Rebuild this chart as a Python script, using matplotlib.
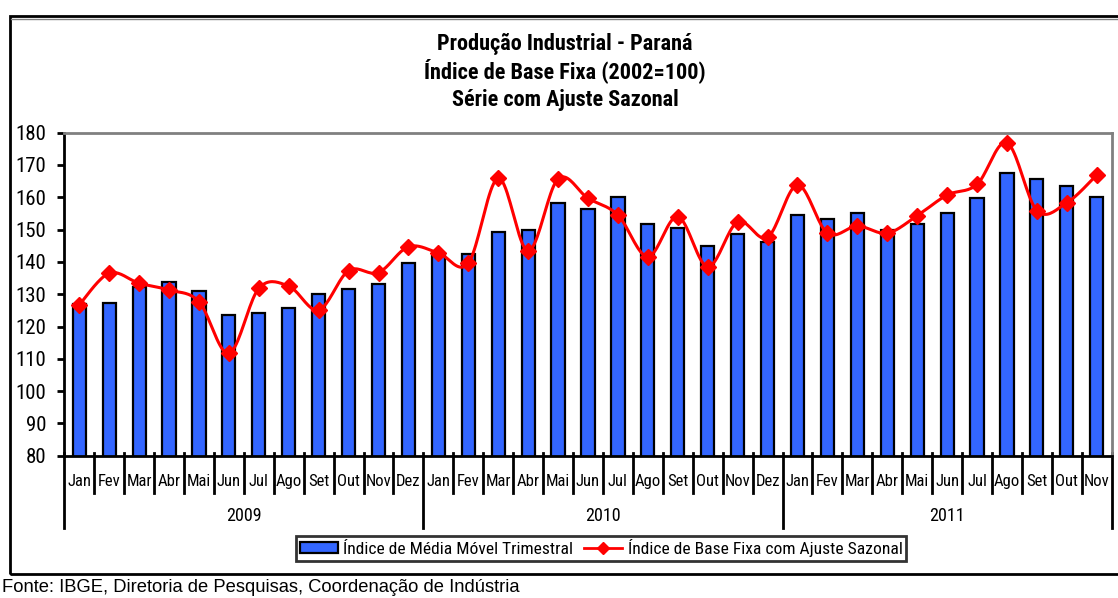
import numpy as np
import matplotlib
matplotlib.use('Agg')
import matplotlib.pyplot as plt
from matplotlib.patches import Patch, Rectangle
from matplotlib.lines import Line2D
from matplotlib import font_manager

# Data
months = ['Jan', 'Fev', 'Mar', 'Abr', 'Mai', 'Jun', 'Jul', 'Ago', 'Set', 'Out', 'Nov', 'Dez',
          'Jan', 'Fev', 'Mar', 'Abr', 'Mai', 'Jun', 'Jul', 'Ago', 'Set', 'Out', 'Nov', 'Dez',
          'Jan', 'Fev', 'Mar', 'Abr', 'Mai', 'Jun', 'Jul', 'Ago', 'Set', 'Out', 'Nov']
years = ['2009', '2010', '2011']
media_movel = [126.9, 127.4, 132.3, 133.7, 131.1, 123.6, 124.1, 125.6, 130.1, 131.6, 133.3, 139.6,
               141.8, 142.3, 149.2, 149.9, 158.3, 156.3, 160.0, 151.8, 150.4, 145.0, 148.7, 146.1,
               154.5, 153.3, 155.1, 150.0, 151.8, 155.0, 159.9, 167.4, 165.7, 163.6, 160.2]
ajuste_sazonal = [126.7, 136.5, 133.4, 131.3, 127.7, 111.7, 131.8, 132.5, 125.1, 137.3, 136.7, 144.7,
                  142.8, 139.6, 165.9, 143.4, 165.7, 159.7, 154.5, 141.6, 154.0, 138.5, 152.4, 147.6,
                  163.8, 148.9, 151.1, 148.9, 154.3, 160.7, 164.0, 176.9, 155.9, 158.3, 166.9]
titulo = ['Produção Industrial - Paraná', 'Índice de Base Fixa (2002=100)', 'Série com Ajuste Sazonal']
fonte = 'Fonte: IBGE, Diretoria de Pesquisas, Coordenação de Indústria'

# Fonts: a narrow Arial look-alike if one is installed
names = set(f.name for f in font_manager.fontManager.ttflist)
narrow = [n for n in ['Liberation Sans Narrow', 'Arial Narrow', 'Roboto Condensed'] if n in names]
narrow = narrow[:1] + ['Liberation Sans', 'DejaVu Sans']
is_narrow = narrow[0] != 'Liberation Sans'
plt.rcParams['font.family'] = ['Liberation Sans', 'DejaVu Sans']

W, H = 1118, 598


def fx(px):
    return px / W


def fy(py):
    return 1 - py / H


def smooth(y, steps=20):
    # Catmull-Rom style smoothing like Excel's smoothed line
    x = np.arange(len(y), dtype=float)
    y = np.asarray(y, dtype=float)
    xs, ys = [], []
    n = len(y)
    for i in range(n - 1):
        p0 = i - 1 if i > 0 else i
        p3 = i + 2 if i + 2 < n else i + 1
        m1x, m1y = (x[i + 1] - x[p0]) / 2, (y[i + 1] - y[p0]) / 2
        m2x, m2y = (x[p3] - x[i]) / 2, (y[p3] - y[i]) / 2
        t = np.linspace(0, 1, steps, endpoint=False)
        h00 = 2 * t**3 - 3 * t**2 + 1
        h10 = t**3 - 2 * t**2 + t
        h01 = -2 * t**3 + 3 * t**2
        h11 = t**3 - t**2
        xs.append(h00 * x[i] + h10 * m1x + h01 * x[i + 1] + h11 * m2x)
        ys.append(h00 * y[i] + h10 * m1y + h01 * y[i + 1] + h11 * m2y)
    xs.append([x[-1]])
    ys.append([y[-1]])
    return np.concatenate(xs), np.concatenate(ys)


fig = plt.figure(figsize=(W / 100, H / 100), dpi=100)
ax_l, ax_r, ax_t, ax_b = 64.3, 1111.7, 132.7, 455.7
ax = fig.add_axes([fx(ax_l), fy(ax_b), fx(ax_r - ax_l), (ax_b - ax_t) / H])

# outer chart frame
fig.add_artist(Rectangle((fx(10), fy(573.5)), 1.1, fy(16) - fy(573.5), transform=fig.transFigure,
                         facecolor='none', edgecolor='black', lw=2, zorder=0))
fig.add_artist(Line2D([fx(11), 1], [fy(18.5), fy(18.5)], transform=fig.transFigure, color='#808080', lw=1))

x = np.arange(len(months))
ax.bar(x, media_movel, width=0.44, color='#3366ff', edgecolor='black', linewidth=1.6, zorder=2)
sx, sy = smooth(ajuste_sazonal)
ax.plot(sx, sy, color='#ff0000', lw=2.2, zorder=3, clip_on=False)
ax.plot(x, ajuste_sazonal, ls='none', marker='D', ms=8.5, color='#ff0000', zorder=4, clip_on=False)

ax.set_xlim(-0.5, len(months) - 0.5)
ax.set_ylim(80, 180)
ax.set_yticks(np.arange(80, 181, 10))
ax.set_yticklabels([str(v) for v in range(80, 181, 10)], family=narrow, fontsize=15 if is_narrow else 13.5)
ax.tick_params(axis='y', direction='out', length=5, width=2, pad=8)
ax.set_xticks([])

for s in ['left', 'bottom']:
    ax.spines[s].set_color('black')
    ax.spines[s].set_linewidth(2)
for s in ['top', 'right']:
    ax.spines[s].set_color('#808080')
    ax.spines[s].set_linewidth(2)

# category axis: month boundaries, labels and year groups
axh = ax_b - ax_t
tr = ax.get_xaxis_transform()
year_bounds = [0, 12, 24, len(months)]
for b in range(len(months) + 1):
    low = 72 if b in year_bounds else 37
    ax.plot([b - 0.5, b - 0.5], [3 / axh, -low / axh], transform=tr, color='black', lw=2, clip_on=False)
for i, m in enumerate(months):
    ax.text(i, -26 / axh, m, transform=tr, ha='center', va='center', family=narrow,
            fontsize=12 if is_narrow else 10.3)
for k, yr in enumerate(years):
    c = (year_bounds[k] + year_bounds[k + 1] - 1) / 2
    ax.text(c, -60.5 / axh, yr, transform=tr, ha='center', va='center', family=narrow, fontsize=13)

# title, one line at a time so the spacing stays even
for line, ypx in zip(titulo, [50, 78, 106]):
    fig.text(fx(565), fy(ypx), line, ha='center', va='baseline', family=narrow,
             fontsize=16 if is_narrow else 14, fontweight='bold')

handles = [Patch(facecolor='#3366ff', edgecolor='black', linewidth=1.6),
           Line2D([], [], color='#ff0000', lw=2, marker='D', ms=6)]
labels = ['Índice de Média Móvel Trimestral', 'Índice de Base Fixa com Ajuste Sazonal']
leg = fig.legend(handles, labels, loc='center', bbox_to_anchor=(fx(601), fy(548)), ncol=2,
                 frameon=True, fancybox=False, prop={'family': narrow, 'size': 12.6 if is_narrow else 11.3},
                 handlelength=2.2, handleheight=0.6, handletextpad=0.3, columnspacing=0.6,
                 borderpad=0.2, borderaxespad=0)
leg.get_frame().set_edgecolor('black')
leg.get_frame().set_linewidth(2)

fig.text(fx(2), fy(587), fonte, ha='left', va='center', fontsize=13.2)

fig.savefig('out.png', dpi=100)
